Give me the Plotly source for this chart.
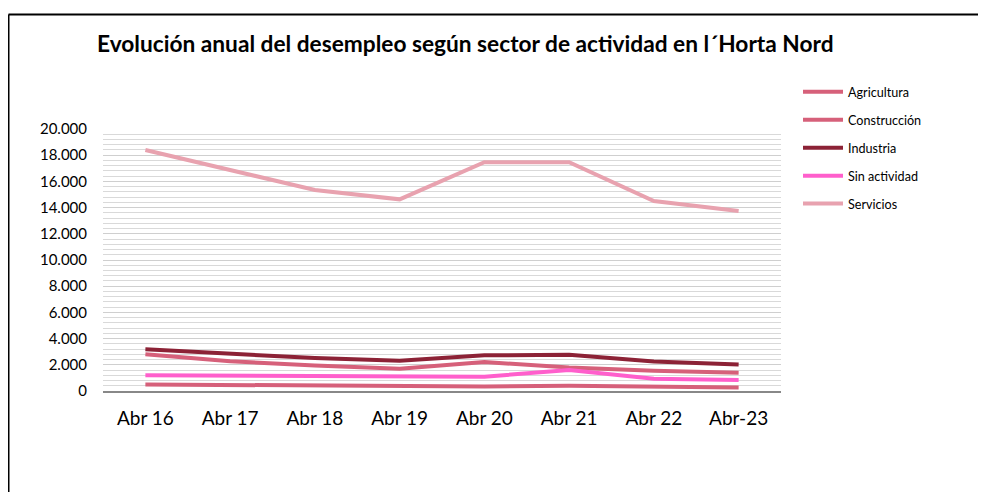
import plotly.graph_objects as go

categories = ["Abr 16", "Abr 17", "Abr 18", "Abr 19", "Abr 20", "Abr 21", "Abr 22", "Abr-23"]
agricultura = [500, 450, 400, 340, 340, 400, 330, 260]
construccion = [2800, 2270, 1950, 1700, 2210, 1800, 1550, 1400]
industria = [3180, 2850, 2520, 2310, 2720, 2770, 2260, 2030]
sin_actividad = [1200, 1170, 1150, 1150, 1090, 1600, 940, 840]
servicios = [18400, 16870, 15340, 14630, 17460, 17460, 14500, 13740]

series = [
    ("Agricultura", agricultura, "#d6607a"),
    ("Construcción", construccion, "#d6607a"),
    ("Industria", industria, "#8c2236"),
    ("Sin actividad", sin_actividad, "#ff5fcc"),
    ("Servicios", servicios, "#e8a2af"),
]

# the page adds an 8px body margin; work in screen pixels and shift
OFF = 8
W, H = 986 - OFF, 492 - OFF
L, R, T, B = 103 - OFF, 781 - OFF, 129 - OFF, 391 - OFF

fig = go.Figure()
for i, (name, vals, col) in enumerate(series):
    fig.add_trace(go.Scatter(
        x=categories, y=vals, name=name, mode="lines",
        line=dict(color=col, width=4), legendgroup=f"g{i}",
    ))

def px(x):
    return (x - OFF - L) / (R - L)

def py(y):
    return (B - (y - OFF)) / (B - T)

FONT = "Lato, Open Sans, sans-serif"

fig.update_layout(
    width=W, height=H,
    margin=dict(l=L, r=W - R, t=T, b=H - B),
    paper_bgcolor="white", plot_bgcolor="white",
    font=dict(family=FONT, color="#000000"),
    title=dict(
        text="<b>Evolución anual del desempleo según sector de actividad en l´Horta Nord</b>",
        xref="container", yref="container",
        x=(97 - OFF) / W, xanchor="left", y=1 - (44 - OFF) / H, yanchor="middle",
        font=dict(size=22.7, family=FONT, color="#000000"),
    ),
    xaxis=dict(
        type="category", range=[-0.5, 7.5], showgrid=False,
        showline=True, linecolor="#888888", linewidth=2,
        ticks="", tickfont=dict(size=19, family=FONT),
        ticklabelstandoff=9,
    ),
    yaxis=dict(
        range=[0, 20000], dtick=2000, tickformat=",d",
        showgrid=True, gridcolor="#cfcfcf", gridwidth=1,
        minor=dict(dtick=400, showgrid=True, gridcolor="#d9d9d9", gridwidth=1),
        zeroline=False, showline=False, ticks="",
        tickfont=dict(size=15, family=FONT),
        ticklabelstandoff=15,
    ),
    separators=",.",
    legend=dict(
        x=px(798), xanchor="left", y=py(77), yanchor="top",
        font=dict(size=12.6, family=FONT),
        traceorder="grouped", tracegroupgap=8.6, itemwidth=40,
        bgcolor="rgba(0,0,0,0)",
    ),
    showlegend=True,
    shapes=[
        dict(type="line", xref="paper", yref="paper",
             x0=px(8.5), x1=px(990), y0=py(14.5), y1=py(14.5),
             line=dict(color="#000000", width=2)),
        dict(type="line", xref="paper", yref="paper",
             x0=px(8.5), x1=px(8.5), y0=py(14.5), y1=py(500),
             line=dict(color="#000000", width=2)),
    ],
)

fig.write_html("out.html")
